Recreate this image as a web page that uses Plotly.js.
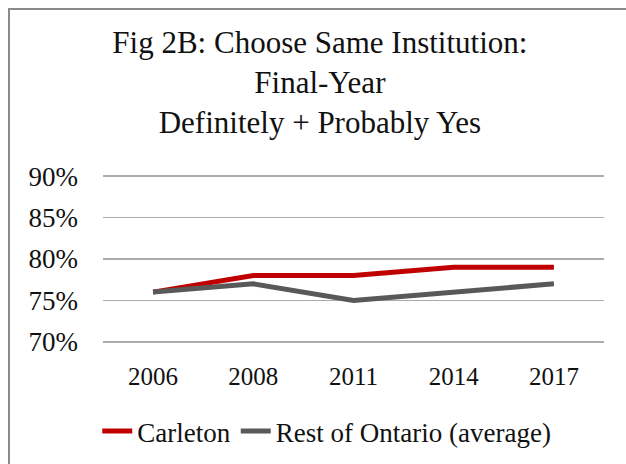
<!DOCTYPE html>
<html>
<head>
<meta charset="utf-8">
<script src="https://cdn.plot.ly/plotly-3.0.1.min.js"></script>
<style>
  html, body { margin:0; padding:0; background:#fff; overflow:hidden; }
  #wrap { position:relative; width:626px; height:464px; }
  #chart { width:626px; height:464px; }
  #frame { position:absolute; left:8px; top:8px; width:640px; height:480px; border:2px solid #8a8a8a; pointer-events:none; }
</style>
</head>
<body>
<div id="wrap">
  <div id="chart"></div>
  <div id="frame"></div>
</div>
<script>
const years = ["2006", "2008", "2011", "2014", "2017"];
const carleton = [76, 78, 78, 79, 79];
const restOfOntario = [76, 77, 75, 76, 77];
const yTicks = [70, 75, 80, 85, 90];
const yTickText = ["70%", "75%", "80%", "85%", "90%"];
const titleText = "Fig 2B: Choose Same Institution:<br>Final-Year<br>Definitely + Probably Yes";
const seriesNames = ["Carleton", "Rest of Ontario (average)"];

const serif = "Liberation Serif";

const traces = [
  { x: years, y: carleton, name: seriesNames[0], type: "scatter", mode: "lines",
    line: { color: "#C00000", width: 5 }, hoverinfo: "skip" },
  { x: years, y: restOfOntario, name: seriesNames[1], type: "scatter", mode: "lines",
    line: { color: "#595959", width: 5 }, hoverinfo: "skip" }
];

const layout = {
  width: 626, height: 464,
  paper_bgcolor: "#fff", plot_bgcolor: "#fff",
  margin: { l: 103, r: 22, t: 175, b: 121 },
  font: { family: serif, color: "#111", size: 24 },
  title: { text: titleText, font: { family: serif, size: 31, color: "#111" },
           x: 0.511, xanchor: "center", xref: "container", y: 0.886, yanchor: "top", yref: "container" },
  xaxis: { type: "category", range: [-0.5, 4.5], showgrid: false, zeroline: false, showline: false,
           ticks: "", ticklabelstandoff: 16, tickfont: { family: serif, size: 25 }, fixedrange: true },
  yaxis: { range: [69.85, 90.15], tickvals: yTicks, ticktext: yTickText, showgrid: true,
           gridcolor: "#ABABAB", gridwidth: 1.5, zeroline: false, showline: false,
           ticks: "", ticklabelstandoff: 24, tickfont: { family: serif, size: 27 }, fixedrange: true },
  showlegend: true,
  legend: { orientation: "h", x: 0.522, xanchor: "center", xref: "container", y: 0.07, yanchor: "middle", yref: "container",
            font: { family: serif, size: 27 }, traceorder: "normal", itemwidth: 30 }
};

Plotly.newPlot("chart", traces, layout, { staticPlot: true, displayModeBar: false });
</script>
</body>
</html>
